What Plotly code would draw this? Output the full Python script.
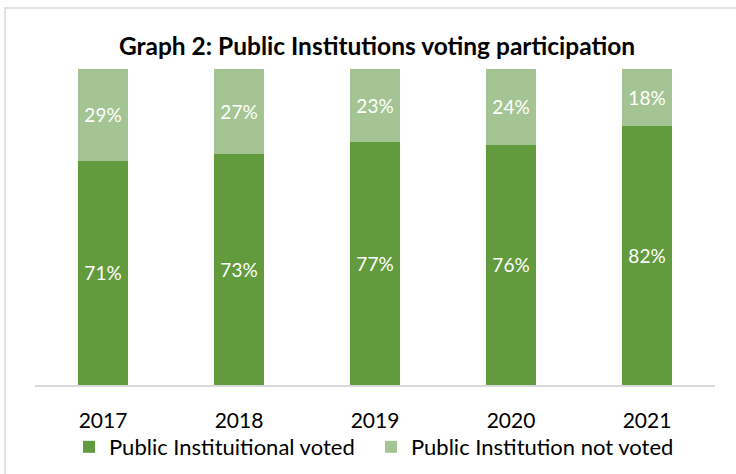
import plotly.graph_objects as go

years = ["2017", "2018", "2019", "2020", "2021"]
voted = [71, 73, 77, 76, 82]
not_voted = [29, 27, 23, 24, 18]
voted_name = "Public Instituitional voted"
not_voted_name = "Public Institution not voted"
title_text = "Graph 2: Public Institutions voting participation"

FONT = "Lato"
DARK = "#629a3e"
LIGHT = "#a4c593"

fig = go.Figure()
fig.add_trace(go.Bar(
    x=years, y=voted, name=voted_name + "\u00a0\u00a0", marker=dict(color=DARK, line=dict(width=0)),
    text=[f"{v}%" for v in voted], textposition="inside", insidetextanchor="middle",
    textfont=dict(color="white", size=19, family=FONT),
))
fig.add_trace(go.Bar(
    x=years, y=not_voted, name=not_voted_name, marker=dict(color=LIGHT, line=dict(width=0)),
    text=[f"{v}%" for v in not_voted], textposition="inside", insidetextanchor="middle",
    textfont=dict(color="white", size=19, family=FONT),
))

W, H = 736, 474
ml, mr, mt, mb = 35, 21, 69, 89
fig.update_layout(
    width=W, height=H, barmode="stack", bargap=0.63,
    margin=dict(l=ml, r=mr, t=mt, b=mb, autoexpand=False),
    paper_bgcolor="white", plot_bgcolor="white",
    font=dict(family=FONT, size=20, color="#000000"),
    title=dict(text=f"<b>{title_text}</b>", x=377 / W, xanchor="center", y=1 - 46 / H, yanchor="middle",
               font=dict(family=FONT, size=24.5, color="#000000")),
    showlegend=True,
    legend=dict(orientation="h", x=(374 - ml) / (W - ml - mr), xanchor="center",
                y=-(447 - (H - mb)) / (H - mt - mb), yanchor="middle",
                font=dict(family=FONT, size=22, color="#000000"), itemwidth=30, traceorder="normal",
                bgcolor="rgba(0,0,0,0)"),
    uniformtext=dict(minsize=8, mode="show"),
)
fig.update_xaxes(showline=True, linecolor="#d9d9d9", linewidth=1.5, ticks="", showgrid=False,
                 tickfont=dict(family=FONT, size=21, color="#000000"), ticklabelstandoff=16)
fig.update_yaxes(range=[0, 100], visible=False, showgrid=False)

# chart border (left and top visible)
fig.add_shape(type="rect", xref="paper", yref="paper",
              x0=(5 - ml) / (W - ml - mr), x1=(745 - ml) / (W - ml - mr),
              y0=-(H + 10 - (H - mb)) / (H - mt - mb), y1=1 + (mt - 8) / (H - mt - mb),
              line=dict(color="#d9d9d9", width=1.5), layer="below")

fig.write_html("out.html", config={"displayModeBar": False},
               post_script="document.body.style.margin='0';document.body.style.overflow='hidden';")
